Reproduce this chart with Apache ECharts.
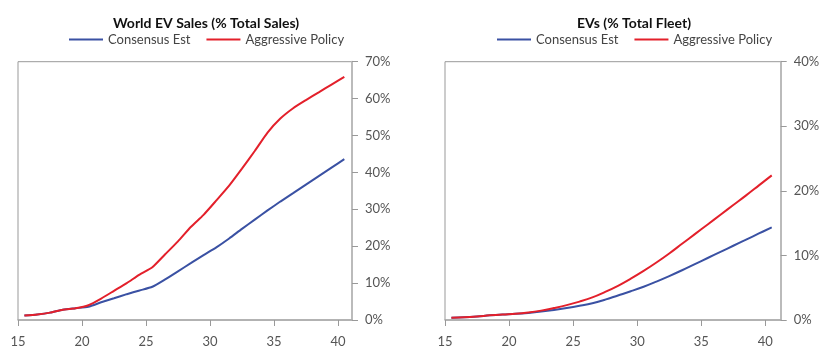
<!DOCTYPE html>
<html><head><meta charset="utf-8">
<script src="https://cdn.jsdelivr.net/npm/echarts@6/dist/echarts.min.js"></script>
<style>html,body{margin:0;padding:0;background:#fff}#c{width:840px;height:360px}</style>
</head><body><div id="c"></div>
<script>
const years = [15.5,16.5,17.5,18.5,19.5,20.5,21.5,22.5,23.5,24.5,25.5,26.5,27.5,28.5,29.5,30.5,31.5,32.5,33.5,34.5,35.5,36.5,37.5,38.5,39.5,40.5];
const salesConsensus = [1.2,1.5,2.0,2.8,3.2,3.6,4.8,5.9,7.0,8.0,9.0,11.0,13.2,15.4,17.6,19.7,22.1,24.7,27.2,29.7,32.1,34.4,36.7,39.0,41.3,43.6];
const salesAggressive = [1.2,1.5,2.0,2.8,3.2,4.0,5.8,7.9,10.0,12.3,14.3,17.8,21.3,25.2,28.5,32.4,36.4,41.0,45.8,50.8,54.6,57.4,59.6,61.7,63.8,65.9];
const fleetConsensus = [0.35,0.42,0.55,0.72,0.85,0.95,1.1,1.3,1.55,1.85,2.2,2.6,3.15,3.8,4.45,5.15,5.95,6.8,7.7,8.65,9.6,10.55,11.5,12.45,13.4,14.35];
const fleetAggressive = [0.35,0.42,0.55,0.72,0.85,0.95,1.15,1.45,1.85,2.3,2.85,3.5,4.35,5.3,6.4,7.6,8.9,10.3,11.8,13.3,14.8,16.3,17.8,19.3,20.85,22.4];
const xTicks = [15,20,25,30,35,40];
const salesYTicks = [0,10,20,30,40,50,60,70];
const fleetYTicks = [0,10,20,30,40];
const seriesNames = ['Consensus Est','Aggressive Policy'];
const titles = ['World EV Sales (% Total Sales)','EVs (% Total Fleet)'];

const BLUE = '#3a51a3', RED = '#e3202b';
const FONT = 'Lato';
const pairs = (xs, ys) => xs.map((x, i) => [x, ys[i]]);

const chart = echarts.init(document.getElementById('c'));
function xAxis(gi, max) {
  return {
    type: 'value', gridIndex: gi, min: 15, max: max, interval: 5,
    axisLine: {show: true, lineStyle: {color: '#aaa', width: 1.5}},
    axisTick: {show: true, length: 6, lineStyle: {color: '#999'}},
    axisLabel: {color: '#555', fontSize: 13, fontFamily: FONT, margin: 15, showMaxLabel: false,
      formatter: v => xTicks.includes(v) ? String(v) : ''},
    splitLine: {show: false}
  };
}
function yAxis(gi, ticks) {
  return {
    type: 'value', gridIndex: gi, position: 'right', min: ticks[0], max: ticks[ticks.length - 1], interval: 10,
    axisLine: {show: true, lineStyle: {color: '#bbb', width: 2}},
    axisTick: {show: true, length: 6, lineStyle: {color: '#999'}},
    axisLabel: {color: '#555', fontSize: 13, fontFamily: FONT, margin: 13, formatter: '{value}%'},
    splitLine: {show: false}
  };
}
function line(name, xi, data, color, smooth) {
  return {name: name, type: 'line', xAxisIndex: xi, yAxisIndex: xi, data: data, showSymbol: false,
    lineStyle: {color: color, width: 2}, itemStyle: {color: color}, smooth: smooth};
}
const legendBase = {
  data: seriesNames, top: 33, padding: 0, itemWidth: 34, itemHeight: 10, itemGap: 16, icon: 'path://M0,4 L34,4 L34,6 L0,6 Z',
  textStyle: {color: '#444', fontSize: 13, fontFamily: FONT}
};
chart.setOption({
  animation: false,
  title: [
    {text: titles[0], left: 108, top: 11, textStyle: {fontSize: 14, fontWeight: 'bold', color: '#111', fontFamily: FONT}},
    {text: titles[1], left: 572, top: 11, textStyle: {fontSize: 14, fontWeight: 'bold', color: '#111', fontFamily: FONT}}
  ],
  legend: [Object.assign({left: 69}, legendBase), Object.assign({left: 497}, legendBase)],
  grid: [
    {left: 18, right: 488, top: 61.7, bottom: 40, show: true, borderColor: '#999', borderWidth: 1},
    {left: 445, right: 59.3, top: 61.7, bottom: 40, show: true, borderColor: '#999', borderWidth: 1}
  ],
  xAxis: [xAxis(0, 41.1), xAxis(1, 41.2)],
  yAxis: [yAxis(0, salesYTicks), yAxis(1, fleetYTicks)],
  series: [
    line(seriesNames[0], 0, pairs(years, salesConsensus), BLUE, 0.2),
    line(seriesNames[1], 0, pairs(years, salesAggressive), RED, 0.2),
    line(seriesNames[0], 1, pairs(years, fleetConsensus), BLUE, 0.4),
    line(seriesNames[1], 1, pairs(years, fleetAggressive), RED, 0.4)
  ]
});
</script></body></html>
